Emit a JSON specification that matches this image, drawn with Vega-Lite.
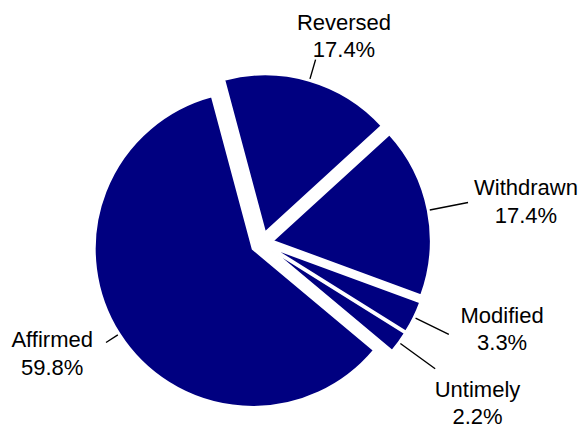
{
  "$schema": "https://vega.github.io/schema/vega-lite/v6.json",
  "width": 340,
  "height": 340,
  "autosize": {"type": "none"},
  "padding": {"left": 92, "top": 73, "right": 147, "bottom": 12},
  "background": "white",
  "config": {"view": {"stroke": null}},
  "data": {
    "values": [
      {"cat": "Reversed", "pct": 17.4},
      {"cat": "Withdrawn", "pct": 17.4},
      {"cat": "Modified", "pct": 3.3},
      {"cat": "Untimely", "pct": 2.2},
      {"cat": "Affirmed", "pct": 59.8}
    ]
  },
  "encoding": {
    "theta": {
      "field": "pct",
      "type": "quantitative",
      "stack": true,
      "scale": {"domain": [0, 100.1], "range": [-0.2618, 6.0214]}
    }
  },
  "layer": [
    {
      "mark": {
        "type": "arc",
        "outerRadius": 158,
        "fill": "#000080",
        "stroke": "white",
        "strokeWidth": 2,
        "strokeJoin": "miter",
        "xOffset": {"expr": "11*sin((scale('theta', datum.pct_start) + scale('theta', datum.pct_end))/2)"},
        "yOffset": {"expr": "-11*cos((scale('theta', datum.pct_start) + scale('theta', datum.pct_end))/2)"}
      }
    },
    {
      "transform": [{"stack": "pct", "groupby": [], "as": ["s0", "s1"]}],
      "mark": {
        "type": "arc",
        "filled": false,
        "stroke": "black",
        "strokeWidth": 1.4,
        "innerRadius": 171,
        "outerRadius": {"expr": "datum.cat === 'Reversed' ? 191 : datum.cat === 'Withdrawn' ? 210 : datum.cat === 'Modified' ? 208 : datum.cat === 'Untimely' ? 214 : 185"},
        "thetaOffset": {"expr": "(scale('theta', datum.s1) - scale('theta', datum.s0))/2"},
        "theta2Offset": {"expr": "(scale('theta', datum.s0) - scale('theta', datum.s1))/2"}
      },
      "encoding": {
        "theta": {"field": "s0", "type": "quantitative", "stack": null},
        "theta2": {"field": "s1"}
      }
    },
    {
      "mark": {
        "type": "text",
        "font": "Liberation Sans, Arial, sans-serif",
        "fontSize": 22,
        "lineHeight": 27.5,
        "align": "center",
        "baseline": "middle",
        "color": "black",
        "text": {"expr": "[datum.cat, format(datum.pct, '.1f') + '%']"},
        "radius": {"expr": "datum.cat === 'Reversed' ? 221 : datum.cat === 'Withdrawn' ? 269 : datum.cat === 'Modified' ? 254 : datum.cat === 'Untimely' ? 270 : 237"},
        "dx": {"expr": "datum.cat === 'Reversed' ? 20 : datum.cat === 'Withdrawn' ? 0 : datum.cat === 'Modified' ? 12 : datum.cat === 'Untimely' ? -3 : -10"},
        "dy": {"expr": "datum.cat === 'Reversed' ? -8 : datum.cat === 'Withdrawn' ? -3 : datum.cat === 'Modified' ? -39 : datum.cat === 'Untimely' ? -12 : -30"}
      }
    }
  ]
}
